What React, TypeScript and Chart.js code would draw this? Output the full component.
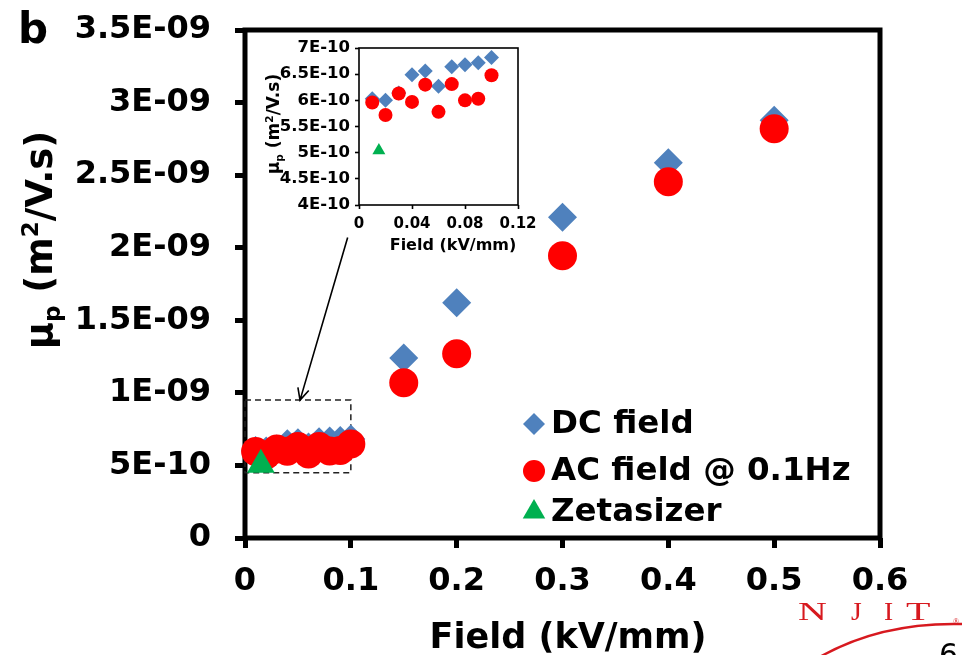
import React, { useEffect, useRef } from 'react';
import { Chart, registerables } from 'chart.js';

Chart.register(...registerables);

const FONT = '"DejaVu Sans", Verdana, sans-serif';

// ---- data ----
const fieldKV = [0.01, 0.02, 0.03, 0.04, 0.05, 0.06, 0.07, 0.08, 0.09, 0.1, 0.15, 0.2, 0.3, 0.4, 0.5];
const dcMobility = [6.03e-10, 6.0e-10, 6.14e-10, 6.49e-10, 6.56e-10, 6.27e-10, 6.64e-10, 6.68e-10, 6.72e-10, 6.82e-10, 1.24e-9, 1.62e-9, 2.21e-9, 2.585e-9, 2.878e-9];
const acMobility = [5.96e-10, 5.72e-10, 6.13e-10, 5.97e-10, 6.3e-10, 5.78e-10, 6.31e-10, 6.0e-10, 6.03e-10, 6.48e-10, 1.07e-9, 1.27e-9, 1.945e-9, 2.454e-9, 2.82e-9];
const zetaField = [0.015];
const zetaMobility = [5.04e-10];
const insetPointCount = 10;

const seriesLabels = ['DC field', 'AC field @ 0.1Hz', 'Zetasizer'];
const seriesColors = ['#4F81BD', '#FF0000', '#00B050'];
const seriesStyles = ['rectRot', 'circle', 'triangle'];

const xTickValues = [0, 0.1, 0.2, 0.3, 0.4, 0.5, 0.6];
const xTickLabels = ['0', '0.1', '0.2', '0.3', '0.4', '0.5', '0.6'];
const yTickValues = [0, 5e-10, 1e-9, 1.5e-9, 2e-9, 2.5e-9, 3e-9, 3.5e-9];
const yTickLabels = ['0', '5E-10', '1E-09', '1.5E-09', '2E-09', '2.5E-09', '3E-09', '3.5E-09'];

const insetXTickValues = [0, 0.04, 0.08, 0.12];
const insetXTickLabels = ['0', '0.04', '0.08', '0.12'];
const insetYTickValues = [4e-10, 4.5e-10, 5e-10, 5.5e-10, 6e-10, 6.5e-10, 7e-10];
const insetYTickLabels = ['4E-10', '4.5E-10', '5E-10', '5.5E-10', '6E-10', '6.5E-10', '7E-10'];

const zoomBoxX = [0, 0.1];
const zoomBoxY = [4.5e-10, 9.5e-10];
const arrowFrom = [0.097, 2.07e-9];
const arrowTo = [0.052, 9.5e-10];

const xTitle = 'Field (kV/mm)';
// [text, scale, baseline shift in em]
const yTitleParts: [string, number, number][] = [
  ['μ', 1, 0],
  ['p', 0.62, 0.22],
  [' (m', 1, 0],
  ['2', 0.62, -0.38],
  ['/V.s)', 1, 0],
];

function pts(xs: number[], ys: number[], n?: number) {
  const count = n ?? xs.length;
  return xs.slice(0, count).map((x, i) => ({ x, y: ys[i] }));
}

function drawRich(ctx: CanvasRenderingContext2D, parts: [string, number, number][], size: number, cx: number, baseline: number) {
  const widths = parts.map(([t, sc]) => {
    ctx.font = `bold ${size * sc}px ${FONT}`;
    return ctx.measureText(t).width;
  });
  const total = widths.reduce((a, b) => a + b, 0);
  let x = cx - total / 2;
  ctx.textAlign = 'left';
  ctx.textBaseline = 'alphabetic';
  parts.forEach(([t, sc, sh], i) => {
    ctx.font = `bold ${size * sc}px ${FONT}`;
    ctx.fillText(t, x, baseline + sh * size);
    x += widths[i];
  });
}

function drawShape(ctx: CanvasRenderingContext2D, style: string, x: number, y: number, r: number, color: string) {
  ctx.fillStyle = color;
  ctx.beginPath();
  if (style === 'circle') {
    ctx.arc(x, y, r, 0, Math.PI * 2);
  } else if (style === 'rectRot') {
    ctx.moveTo(x, y - r);
    ctx.lineTo(x + r, y);
    ctx.lineTo(x, y + r);
    ctx.lineTo(x - r, y);
    ctx.closePath();
  } else {
    ctx.moveTo(x, y - r);
    ctx.lineTo(x + r * Math.sin((2 * Math.PI) / 3), y - r * Math.cos((2 * Math.PI) / 3));
    ctx.lineTo(x + r * Math.sin((4 * Math.PI) / 3), y - r * Math.cos((4 * Math.PI) / 3));
    ctx.closePath();
  }
  ctx.fill();
}

const mainDecor = {
  id: 'mainDecor',
  beforeDatasetsDraw(chart: any) {
    const { ctx, chartArea, scales } = chart;
    const { left, top, right, bottom } = chartArea;
    ctx.save();
    ctx.strokeStyle = '#000';
    ctx.lineWidth = 5;
    ctx.lineJoin = 'miter';
    ctx.strokeRect(left, top, right - left, bottom - top);
    // dashed zoom box
    const x0 = scales.x.getPixelForValue(zoomBoxX[0]);
    const x1 = scales.x.getPixelForValue(zoomBoxX[1]);
    const y0 = scales.y.getPixelForValue(zoomBoxY[0]);
    const y1 = scales.y.getPixelForValue(zoomBoxY[1]);
    ctx.lineWidth = 1.5;
    ctx.strokeStyle = '#222';
    ctx.setLineDash([6, 4]);
    ctx.strokeRect(x0, y1, x1 - x0, y0 - y1);
    ctx.setLineDash([]);
    // arrow
    const ax0 = scales.x.getPixelForValue(arrowFrom[0]);
    const ay0 = scales.y.getPixelForValue(arrowFrom[1]);
    const ax1 = scales.x.getPixelForValue(arrowTo[0]);
    const ay1 = scales.y.getPixelForValue(arrowTo[1]);
    ctx.strokeStyle = '#000';
    ctx.lineWidth = 1.6;
    ctx.beginPath();
    ctx.moveTo(ax0, ay0);
    ctx.lineTo(ax1, ay1);
    const ang = Math.atan2(ay1 - ay0, ax1 - ax0);
    const hl = 13;
    ctx.moveTo(ax1 + hl * Math.cos(ang + Math.PI - 0.45), ay1 + hl * Math.sin(ang + Math.PI - 0.45));
    ctx.lineTo(ax1, ay1);
    ctx.lineTo(ax1 + hl * Math.cos(ang + Math.PI + 0.45), ay1 + hl * Math.sin(ang + Math.PI + 0.45));
    ctx.stroke();
    ctx.restore();
  },
  afterDraw(chart: any) {
    const { ctx } = chart;
    ctx.save();
    ctx.fillStyle = '#000';
    // panel letter
    ctx.font = `bold 42px ${FONT}`;
    ctx.textAlign = 'left';
    ctx.textBaseline = 'alphabetic';
    ctx.fillText('b', 18, 43);
    // x title
    ctx.font = `bold 35px ${FONT}`;
    ctx.textAlign = 'center';
    ctx.fillText(xTitle, 568, 648);
    // y title
    ctx.save();
    ctx.translate(52, 240);
    ctx.rotate(-Math.PI / 2);
    drawRich(ctx, yTitleParts, 37, 0, 0);
    ctx.restore();
    // legend
    const ds = chart.data.datasets;
    const rowY = [424, 471, 512];
    ds.forEach((d: any, i: number) => {
      const r = d.pointStyle === 'triangle' ? 13 : 11;
      drawShape(ctx, d.pointStyle, 534, rowY[i], r, d.backgroundColor);
      ctx.fillStyle = '#000';
      ctx.font = `bold 32.5px ${FONT}`;
      ctx.textAlign = 'left';
      ctx.textBaseline = 'middle';
      ctx.fillText(d.label, 551, rowY[i] + 1);
    });
    // logo
    ctx.fillStyle = '#D7191F';
    ctx.textBaseline = 'alphabetic';
    ctx.textAlign = 'left';
    ctx.font = `25px "Liberation Serif", serif`;
    const logo = ['N', 'J', 'I', 'T'];
    const logoX = [798, 851, 884, 906];
    logo.forEach((c, i) => {
      ctx.save();
      ctx.translate(logoX[i], 620);
      ctx.scale(c === 'J' || c === 'I' ? 1.1 : 1.6, 1);
      ctx.fillText(c, 0, 0);
      ctx.restore();
    });
    ctx.font = `8px "Liberation Serif", serif`;
    ctx.fillText('®', 953, 624);
    ctx.strokeStyle = '#D7191F';
    ctx.lineWidth = 2.5;
    ctx.beginPath();
    ctx.moveTo(818, 658);
    ctx.quadraticCurveTo(880, 622, 962, 624);
    ctx.stroke();
    ctx.fillStyle = '#000';
    ctx.font = `30px ${FONT}`;
    ctx.fillText('6', 939, 665);
    ctx.restore();
  },
};

const insetDecor = {
  id: 'insetDecor',
  beforeDatasetsDraw(chart: any) {
    const { ctx, chartArea } = chart;
    const { left, top, right, bottom } = chartArea;
    ctx.save();
    ctx.strokeStyle = '#000';
    ctx.lineWidth = 1.6;
    ctx.strokeRect(left, top, right - left, bottom - top);
    ctx.restore();
  },
  afterDraw(chart: any) {
    const { ctx } = chart;
    ctx.save();
    ctx.fillStyle = '#000';
    ctx.font = `bold 16px ${FONT}`;
    ctx.textAlign = 'center';
    ctx.textBaseline = 'alphabetic';
    ctx.fillText(xTitle, 198, 215);
    ctx.translate(24, 89);
    ctx.rotate(-Math.PI / 2);
    drawRich(ctx, yTitleParts, 17, 0, 0);
    ctx.restore();
  },
};

function makeDatasets(n: number | undefined, radii: number[]) {
  const data = [pts(fieldKV, dcMobility, n), pts(fieldKV, acMobility, n), pts(zetaField, zetaMobility)];
  return data.map((d, i) => ({
    label: seriesLabels[i],
    data: d,
    pointStyle: seriesStyles[i],
    backgroundColor: seriesColors[i],
    borderColor: seriesColors[i],
    pointBorderWidth: 0,
    pointRadius: radii[i],
    pointHoverRadius: radii[i],
    showLine: false,
    clip: false,
    order: 3 - i,
  }));
}

function axis(min: number, max: number, values: number[], labels: string[], size: number, tickLen: number, tickW: number, pad: number, fitKey: 'width' | 'height', fitVal: number) {
  return {
    type: 'linear',
    min,
    max,
    afterBuildTicks: (s: any) => {
      s.ticks = values.map((v) => ({ value: v }));
    },
    afterFit: (s: any) => {
      s[fitKey] = fitVal;
      s.paddingTop = 0;
      s.paddingBottom = 0;
      s.paddingLeft = 0;
      s.paddingRight = 0;
    },
    ticks: {
      autoSkip: false,
      maxRotation: 0,
      minRotation: 0,
      padding: pad,
      color: '#000',
      font: { family: FONT, size, weight: 'bold' },
      callback: (_v: any, i: number) => labels[i],
    },
    grid: { drawOnChartArea: false, drawTicks: true, tickLength: tickLen, tickWidth: tickW, tickColor: '#000', color: '#000' },
    border: { display: false },
    title: { display: false },
  };
}

export default function App() {
  const mainRef = useRef<HTMLCanvasElement>(null);
  const insetRef = useRef<HTMLCanvasElement>(null);

  useEffect(() => {
    const main = new Chart(mainRef.current as HTMLCanvasElement, {
      type: 'scatter',
      data: { datasets: makeDatasets(undefined, [14.5, 14.5, 16]) as any },
      options: {
        animation: false,
        responsive: false,
        devicePixelRatio: 1,
        layout: { padding: { left: 0, top: 30, right: 87, bottom: 0 } },
        plugins: { legend: { display: false }, tooltip: { enabled: false } },
        events: [],
        scales: {
          x: axis(0, 0.6, xTickValues, xTickLabels, 32, 10, 5, 14, 'height', 117) as any,
          y: axis(0, 3.5e-9, yTickValues, yTickLabels, 32, 10, 5, 24, 'width', 245) as any,
        },
      },
      plugins: [mainDecor],
    });
    const inset = new Chart(insetRef.current as HTMLCanvasElement, {
      type: 'scatter',
      data: { datasets: makeDatasets(insetPointCount, [7.5, 7, 7.5]) as any },
      options: {
        animation: false,
        responsive: false,
        devicePixelRatio: 1,
        layout: { padding: { left: 0, top: 13, right: 27, bottom: 0 } },
        plugins: { legend: { display: false }, tooltip: { enabled: false } },
        events: [],
        scales: {
          x: axis(0, 0.12, insetXTickValues, insetXTickLabels, 15, 4, 1.6, 6, 'height', 57) as any,
          y: axis(4e-10, 7e-10, insetYTickValues, insetYTickLabels, 16.5, 4, 1.6, 5, 'width', 104) as any,
        },
      },
      plugins: [insetDecor],
    });
    return () => {
      main.destroy();
      inset.destroy();
    };
  }, []);

  return (
    <div style={{ position: 'absolute', left: 0, top: 0, width: 967, height: 655, background: '#fff', overflow: 'hidden' }}>
      <canvas ref={mainRef} width={967} height={655} style={{ position: 'absolute', left: 0, top: 0, width: 967, height: 655 }} />
      <canvas ref={insetRef} width={290} height={227} style={{ position: 'absolute', left: 255, top: 35, width: 290, height: 227 }} />
    </div>
  );
}
